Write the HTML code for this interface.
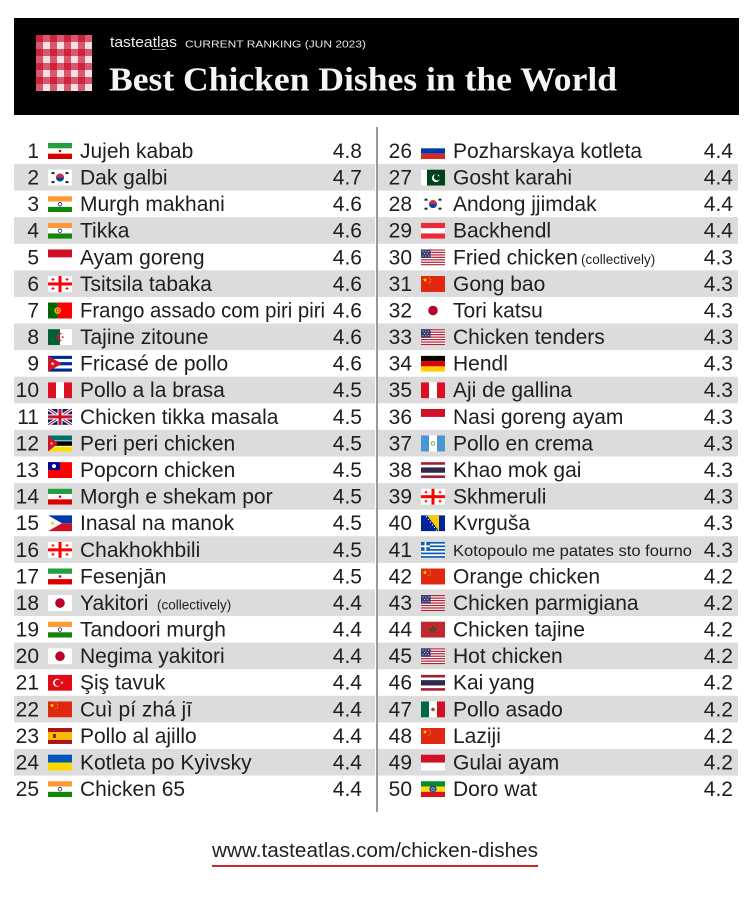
<!DOCTYPE html>
<html><head><meta charset="utf-8"><style>
html,body{margin:0;padding:0;background:#fff;}
svg{display:block;}
text{font-family:"Liberation Sans","DejaVu Sans",sans-serif;}
.t{font-size:21px;fill:#1e1e1e;}
.e{text-anchor:end;}
.s{font-size:13.5px;fill:#1e1e1e;}
</style></head><body>
<svg width="751" height="900" viewBox="0 0 751 900" xmlns="http://www.w3.org/2000/svg" xmlns:xlink="http://www.w3.org/1999/xlink">
<defs>
<pattern id="ging" x="36" y="35" width="14" height="14" patternUnits="userSpaceOnUse">
<rect width="14" height="14" fill="#f6dfe2"/>
<rect width="7" height="14" fill="#c4001f" fill-opacity="0.6"/>
<rect width="14" height="7" fill="#c4001f" fill-opacity="0.6"/>
</pattern>
<path id="star" d="M0-1L.2245-.309L.951-.309L.363.118L.588.809L0 .382L-.588.809L-.363.118L-.951-.309L-.2245-.309Z"/>
<symbol id="iran" viewBox="0 0 24 16"><rect width="24" height="16" fill="#fff"/><rect width="24" height="5.33" fill="#239f40"/><rect y="10.67" width="24" height="5.33" fill="#da0000"/><circle cx="12" cy="8" r="1.3" fill="#da0000"/></symbol>
<symbol id="korea" viewBox="0 0 24 16"><rect width="24" height="16" fill="#fff"/><circle cx="12" cy="8" r="4" fill="#0047a0"/><path d="M8 8a4 4 0 0 1 8 0z" fill="#cd2e3a"/><rect x="3.5" y="2.5" width="3" height="2" fill="#222"/><rect x="17.5" y="2.5" width="3" height="2" fill="#222"/><rect x="3.5" y="11.5" width="3" height="2" fill="#222"/><rect x="17.5" y="11.5" width="3" height="2" fill="#222"/></symbol>
<symbol id="india" viewBox="0 0 24 16"><rect width="24" height="16" fill="#fff"/><rect width="24" height="5.33" fill="#ff9933"/><rect y="10.67" width="24" height="5.33" fill="#138808"/><circle cx="12" cy="8" r="1.8" fill="none" stroke="#000080" stroke-width=".7"/></symbol>
<symbol id="indonesia" viewBox="0 0 24 16"><rect width="24" height="16" fill="#fff"/><rect width="24" height="8" fill="#ce1126"/></symbol>
<symbol id="georgia" viewBox="0 0 24 16"><rect width="24" height="16" fill="#fff"/><rect x="10.5" width="3" height="16" fill="#f00"/><rect y="6.5" width="24" height="3" fill="#f00"/><rect x="4.5" y="2" width="1" height="3" fill="#f00"/><rect x="3.5" y="3" width="3" height="1" fill="#f00"/><rect x="18.5" y="2" width="1" height="3" fill="#f00"/><rect x="17.5" y="3" width="3" height="1" fill="#f00"/><rect x="4.5" y="11" width="1" height="3" fill="#f00"/><rect x="3.5" y="12" width="3" height="1" fill="#f00"/><rect x="18.5" y="11" width="1" height="3" fill="#f00"/><rect x="17.5" y="12" width="3" height="1" fill="#f00"/></symbol>
<symbol id="portugal" viewBox="0 0 24 16"><rect width="9.6" height="16" fill="#006600"/><rect x="9.6" width="14.4" height="16" fill="#f00"/><circle cx="9.6" cy="8" r="3.2" fill="#ffe000"/><circle cx="9.6" cy="8" r="2" fill="#d00"/><rect x="8.8" y="7" width="1.6" height="2" fill="#fff"/></symbol>
<symbol id="algeria" viewBox="0 0 24 16"><rect width="12" height="16" fill="#006233"/><rect x="12" width="12" height="16" fill="#fff"/><path d="M14.5 4.5A4 4 0 1 0 14.5 11.5A3.2 3.2 0 1 1 14.5 4.5Z" fill="#d21034"/><use xlink:href="#star" transform="translate(14.8,8) scale(1.5)" fill="#d21034"/></symbol>
<symbol id="cuba" viewBox="0 0 24 16"><rect width="24" height="16" fill="#fff"/><rect width="24" height="3.2" fill="#002a8f"/><rect y="6.4" width="24" height="3.2" fill="#002a8f"/><rect y="12.8" width="24" height="3.2" fill="#002a8f"/><path d="M0 0L13.9 8L0 16Z" fill="#cf142b"/><use xlink:href="#star" transform="translate(4.6,8) scale(2)" fill="#fff"/></symbol>
<symbol id="peru" viewBox="0 0 24 16"><rect width="24" height="16" fill="#fff"/><rect width="8" height="16" fill="#d91023"/><rect x="16" width="8" height="16" fill="#d91023"/></symbol>
<symbol id="uk" viewBox="0 0 24 16"><rect width="24" height="16" fill="#012169"/><path d="M0 0L24 16M24 0L0 16" stroke="#fff" stroke-width="3.2"/><path d="M0 0L24 16M24 0L0 16" stroke="#c8102e" stroke-width="1.1"/><path d="M12 0V16M0 8H24" stroke="#fff" stroke-width="5"/><path d="M12 0V16M0 8H24" stroke="#c8102e" stroke-width="3"/></symbol>
<symbol id="mozambique" viewBox="0 0 24 16"><rect width="24" height="5.33" fill="#007168"/><rect y="5.33" width="24" height="5.34" fill="#000"/><rect y="10.67" width="24" height="5.33" fill="#fce100"/><rect y="5" width="24" height=".8" fill="#fff"/><rect y="10.3" width="24" height=".8" fill="#fff"/><path d="M0 0L10 8L0 16Z" fill="#d21034"/><use xlink:href="#star" transform="translate(3.6,8) scale(2)" fill="#fce100"/></symbol>
<symbol id="taiwan" viewBox="0 0 24 16"><rect width="24" height="16" fill="#fe0000"/><rect width="12" height="8" fill="#000095"/><circle cx="6" cy="4" r="2" fill="#fff"/></symbol>
<symbol id="philippines" viewBox="0 0 24 16"><rect width="24" height="8" fill="#0038a8"/><rect y="8" width="24" height="8" fill="#ce1126"/><path d="M0 0L13.9 8L0 16Z" fill="#fff"/><circle cx="4.6" cy="8" r="1.6" fill="#fcd116"/></symbol>
<symbol id="japan" viewBox="0 0 24 16"><rect width="24" height="16" fill="#fff"/><circle cx="12" cy="8" r="4.8" fill="#bc002d"/></symbol>
<symbol id="turkey" viewBox="0 0 24 16"><rect width="24" height="16" fill="#e30a17"/><circle cx="9" cy="8" r="4" fill="#fff"/><circle cx="10" cy="8" r="3.2" fill="#e30a17"/><use xlink:href="#star" transform="translate(14,8) rotate(-18) scale(1.7)" fill="#fff"/></symbol>
<symbol id="china" viewBox="0 0 24 16"><rect width="24" height="16" fill="#de2910"/><use xlink:href="#star" transform="translate(4,4) scale(2.4)" fill="#ffde00"/><use xlink:href="#star" transform="translate(8,1.6) scale(.8)" fill="#ffde00"/><use xlink:href="#star" transform="translate(9.6,3.2) scale(.8)" fill="#ffde00"/><use xlink:href="#star" transform="translate(9.6,5.6) scale(.8)" fill="#ffde00"/><use xlink:href="#star" transform="translate(8,7.2) scale(.8)" fill="#ffde00"/></symbol>
<symbol id="spain" viewBox="0 0 24 16"><rect width="24" height="16" fill="#aa151b"/><rect y="4" width="24" height="8" fill="#f1bf00"/><rect x="5" y="6" width="3" height="4" fill="#aa151b"/></symbol>
<symbol id="ukraine" viewBox="0 0 24 16"><rect width="24" height="8" fill="#0057b7"/><rect y="8" width="24" height="8" fill="#ffd700"/></symbol>
<symbol id="russia" viewBox="0 0 24 16"><rect width="24" height="5.33" fill="#fff"/><rect y="5.33" width="24" height="5.34" fill="#0039a6"/><rect y="10.67" width="24" height="5.33" fill="#d52b1e"/></symbol>
<symbol id="pakistan" viewBox="0 0 24 16"><rect width="24" height="16" fill="#fff"/><rect x="6" width="18" height="16" fill="#01411c"/><circle cx="15" cy="8.5" r="4" fill="#fff"/><circle cx="16.2" cy="7.5" r="3.4" fill="#01411c"/><use xlink:href="#star" transform="translate(17.5,6) scale(1.3)" fill="#fff"/></symbol>
<symbol id="austria" viewBox="0 0 24 16"><rect width="24" height="16" fill="#fff"/><rect width="24" height="5.33" fill="#ed2939"/><rect y="10.67" width="24" height="5.33" fill="#ed2939"/></symbol>
<symbol id="usa" viewBox="0 0 24 16"><rect width="24" height="16" fill="#fff"/><g fill="#b22234"><rect width="24" height="1.23"/><rect y="2.46" width="24" height="1.23"/><rect y="4.92" width="24" height="1.23"/><rect y="7.38" width="24" height="1.23"/><rect y="9.85" width="24" height="1.23"/><rect y="12.31" width="24" height="1.23"/><rect y="14.77" width="24" height="1.23"/></g><rect width="9.6" height="8.6" fill="#3c3b6e"/><g fill="#fff"><circle cx="2" cy="2" r=".5"/><circle cx="4.8" cy="2" r=".5"/><circle cx="7.6" cy="2" r=".5"/><circle cx="3.4" cy="4.3" r=".5"/><circle cx="6.2" cy="4.3" r=".5"/><circle cx="2" cy="6.6" r=".5"/><circle cx="4.8" cy="6.6" r=".5"/><circle cx="7.6" cy="6.6" r=".5"/></g></symbol>
<symbol id="germany" viewBox="0 0 24 16"><rect width="24" height="5.33" fill="#000"/><rect y="5.33" width="24" height="5.34" fill="#d00"/><rect y="10.67" width="24" height="5.33" fill="#ffce00"/></symbol>
<symbol id="guatemala" viewBox="0 0 24 16"><rect width="24" height="16" fill="#fff"/><rect width="8" height="16" fill="#4997d0"/><rect x="16" width="8" height="16" fill="#4997d0"/><circle cx="12" cy="8" r="1.8" fill="none" stroke="#6c9a3a" stroke-width=".8"/></symbol>
<symbol id="thailand" viewBox="0 0 24 16"><rect width="24" height="16" fill="#a51931"/><rect y="2.67" width="24" height="10.66" fill="#fff"/><rect y="5.33" width="24" height="5.34" fill="#2d2a4a"/></symbol>
<symbol id="bosnia" viewBox="0 0 24 16"><rect width="24" height="16" fill="#002395"/><path d="M6 0H18V16Z" fill="#fecb00"/><g fill="#fff"><circle cx="5.5" cy="1.5" r=".6"/><circle cx="7.5" cy="4.2" r=".6"/><circle cx="9.5" cy="6.9" r=".6"/><circle cx="11.5" cy="9.6" r=".6"/><circle cx="13.5" cy="12.3" r=".6"/><circle cx="15.5" cy="15" r=".6"/></g></symbol>
<symbol id="greece" viewBox="0 0 24 16"><rect width="24" height="16" fill="#fff"/><g fill="#0d5eaf"><rect width="24" height="1.78"/><rect y="3.56" width="24" height="1.78"/><rect y="7.11" width="24" height="1.78"/><rect y="10.67" width="24" height="1.78"/><rect y="14.22" width="24" height="1.78"/><rect width="8.9" height="8.9"/></g><rect x="3.56" width="1.78" height="8.9" fill="#fff"/><rect y="3.56" width="8.9" height="1.78" fill="#fff"/></symbol>
<symbol id="morocco" viewBox="0 0 24 16"><rect width="24" height="16" fill="#c1272d"/><use xlink:href="#star" transform="translate(12,8.3) scale(3.4)" fill="none" stroke="#006233" stroke-width=".22"/></symbol>
<symbol id="mexico" viewBox="0 0 24 16"><rect width="24" height="16" fill="#fff"/><rect width="8" height="16" fill="#006847"/><rect x="16" width="8" height="16" fill="#ce1126"/><circle cx="12" cy="8" r="1.8" fill="#8c5a2b"/></symbol>
<symbol id="ethiopia" viewBox="0 0 24 16"><rect width="24" height="5.33" fill="#078930"/><rect y="5.33" width="24" height="5.34" fill="#fcdd09"/><rect y="10.67" width="24" height="5.33" fill="#da121a"/><circle cx="12" cy="8" r="3.6" fill="#0f47af"/><use xlink:href="#star" transform="translate(12,8.2) scale(2.4)" fill="none" stroke="#fcdd09" stroke-width=".2"/></symbol>
</defs>

<!-- header -->
<rect x="14" y="18" width="725" height="97" fill="#000"/>
<rect x="36" y="35" width="56" height="56" fill="url(#ging)"/>
<text x="110" y="47" font-size="15" fill="#ececec" textLength="67" lengthAdjust="spacingAndGlyphs">tasteatlas</text>
<rect x="152" y="49" width="14" height="0.8" fill="#bbb"/>
<text x="185" y="47.5" font-size="10.5" fill="#e6e6e6" textLength="181" lengthAdjust="spacingAndGlyphs">CURRENT RANKING (JUN 2023)</text>
<text x="109" y="90.5" font-size="34" font-weight="bold" fill="#f5f5f5" textLength="508" lengthAdjust="spacingAndGlyphs" style="font-family:'Liberation Serif','DejaVu Serif',serif;">Best Chicken Dishes in the World</text>

<!-- divider -->
<rect x="376.5" y="127" width="1" height="685" fill="#333"/>

<!-- rows -->
<g class="t">
<g transform="translate(0,137.4)"><text class="t e" x="39" y="20.5">1</text><use xlink:href="#iran" x="48" y="5.6" width="24" height="16"/><text class="t" x="80" y="20.5">Jujeh kabab</text><text class="t e" x="362" y="20.5">4.8</text>
<text class="t e" x="412" y="20.5">26</text><use xlink:href="#russia" x="421" y="5.6" width="24" height="16"/><text class="t" x="453" y="20.5">Pozharskaya kotleta</text><text class="t e" x="733" y="20.5">4.4</text></g>

<g transform="translate(0,163.99)"><rect x="14" width="361" height="26.6" fill="#dcdcdc"/><rect x="378" width="360" height="26.6" fill="#dcdcdc"/><text class="t e" x="39" y="20.5">2</text><use xlink:href="#korea" x="48" y="5.6" width="24" height="16"/><text class="t" x="80" y="20.5">Dak galbi</text><text class="t e" x="362" y="20.5">4.7</text>
<text class="t e" x="412" y="20.5">27</text><use xlink:href="#pakistan" x="421" y="5.6" width="24" height="16"/><text class="t" x="453" y="20.5">Gosht karahi</text><text class="t e" x="733" y="20.5">4.4</text></g>

<g transform="translate(0,190.58)"><text class="t e" x="39" y="20.5">3</text><use xlink:href="#india" x="48" y="5.6" width="24" height="16"/><text class="t" x="80" y="20.5">Murgh makhani</text><text class="t e" x="362" y="20.5">4.6</text>
<text class="t e" x="412" y="20.5">28</text><use xlink:href="#korea" x="421" y="5.6" width="24" height="16"/><text class="t" x="453" y="20.5">Andong jjimdak</text><text class="t e" x="733" y="20.5">4.4</text></g>

<g transform="translate(0,217.17)"><rect x="14" width="361" height="26.6" fill="#dcdcdc"/><rect x="378" width="360" height="26.6" fill="#dcdcdc"/><text class="t e" x="39" y="20.5">4</text><use xlink:href="#india" x="48" y="5.6" width="24" height="16"/><text class="t" x="80" y="20.5">Tikka</text><text class="t e" x="362" y="20.5">4.6</text>
<text class="t e" x="412" y="20.5">29</text><use xlink:href="#austria" x="421" y="5.6" width="24" height="16"/><text class="t" x="453" y="20.5">Backhendl</text><text class="t e" x="733" y="20.5">4.4</text></g>

<g transform="translate(0,243.76)"><text class="t e" x="39" y="20.5">5</text><use xlink:href="#indonesia" x="48" y="5.6" width="24" height="16"/><text class="t" x="80" y="20.5">Ayam goreng</text><text class="t e" x="362" y="20.5">4.6</text>
<text class="t e" x="412" y="20.5">30</text><use xlink:href="#usa" x="421" y="5.6" width="24" height="16"/><text class="t" x="453" y="20.5">Fried chicken</text><text class="s" x="581" y="20">(collectively)</text><text class="t e" x="733" y="20.5">4.3</text></g>

<g transform="translate(0,270.35)"><rect x="14" width="361" height="26.6" fill="#dcdcdc"/><rect x="378" width="360" height="26.6" fill="#dcdcdc"/><text class="t e" x="39" y="20.5">6</text><use xlink:href="#georgia" x="48" y="5.6" width="24" height="16"/><text class="t" x="80" y="20.5">Tsitsila tabaka</text><text class="t e" x="362" y="20.5">4.6</text>
<text class="t e" x="412" y="20.5">31</text><use xlink:href="#china" x="421" y="5.6" width="24" height="16"/><text class="t" x="453" y="20.5">Gong bao</text><text class="t e" x="733" y="20.5">4.3</text></g>

<g transform="translate(0,296.94)"><text class="t e" x="39" y="20.5">7</text><use xlink:href="#portugal" x="48" y="5.6" width="24" height="16"/><text class="t" x="80" y="20.5" textLength="245" lengthAdjust="spacingAndGlyphs">Frango assado com piri piri</text><text class="t e" x="362" y="20.5">4.6</text>
<text class="t e" x="412" y="20.5">32</text><use xlink:href="#japan" x="421" y="5.6" width="24" height="16"/><text class="t" x="453" y="20.5">Tori katsu</text><text class="t e" x="733" y="20.5">4.3</text></g>

<g transform="translate(0,323.53)"><rect x="14" width="361" height="26.6" fill="#dcdcdc"/><rect x="378" width="360" height="26.6" fill="#dcdcdc"/><text class="t e" x="39" y="20.5">8</text><use xlink:href="#algeria" x="48" y="5.6" width="24" height="16"/><text class="t" x="80" y="20.5">Tajine zitoune</text><text class="t e" x="362" y="20.5">4.6</text>
<text class="t e" x="412" y="20.5">33</text><use xlink:href="#usa" x="421" y="5.6" width="24" height="16"/><text class="t" x="453" y="20.5">Chicken tenders</text><text class="t e" x="733" y="20.5">4.3</text></g>

<g transform="translate(0,350.12)"><text class="t e" x="39" y="20.5">9</text><use xlink:href="#cuba" x="48" y="5.6" width="24" height="16"/><text class="t" x="80" y="20.5">Fricasé de pollo</text><text class="t e" x="362" y="20.5">4.6</text>
<text class="t e" x="412" y="20.5">34</text><use xlink:href="#germany" x="421" y="5.6" width="24" height="16"/><text class="t" x="453" y="20.5">Hendl</text><text class="t e" x="733" y="20.5">4.3</text></g>

<g transform="translate(0,376.71)"><rect x="14" width="361" height="26.6" fill="#dcdcdc"/><rect x="378" width="360" height="26.6" fill="#dcdcdc"/><text class="t e" x="39" y="20.5">10</text><use xlink:href="#peru" x="48" y="5.6" width="24" height="16"/><text class="t" x="80" y="20.5">Pollo a la brasa</text><text class="t e" x="362" y="20.5">4.5</text>
<text class="t e" x="412" y="20.5">35</text><use xlink:href="#peru" x="421" y="5.6" width="24" height="16"/><text class="t" x="453" y="20.5">Aji de gallina</text><text class="t e" x="733" y="20.5">4.3</text></g>

<g transform="translate(0,403.3)"><text class="t e" x="39" y="20.5">11</text><use xlink:href="#uk" x="48" y="5.6" width="24" height="16"/><text class="t" x="80" y="20.5">Chicken tikka masala</text><text class="t e" x="362" y="20.5">4.5</text>
<text class="t e" x="412" y="20.5">36</text><use xlink:href="#indonesia" x="421" y="5.6" width="24" height="16"/><text class="t" x="453" y="20.5">Nasi goreng ayam</text><text class="t e" x="733" y="20.5">4.3</text></g>

<g transform="translate(0,429.89)"><rect x="14" width="361" height="26.6" fill="#dcdcdc"/><rect x="378" width="360" height="26.6" fill="#dcdcdc"/><text class="t e" x="39" y="20.5">12</text><use xlink:href="#mozambique" x="48" y="5.6" width="24" height="16"/><text class="t" x="80" y="20.5">Peri peri chicken</text><text class="t e" x="362" y="20.5">4.5</text>
<text class="t e" x="412" y="20.5">37</text><use xlink:href="#guatemala" x="421" y="5.6" width="24" height="16"/><text class="t" x="453" y="20.5">Pollo en crema</text><text class="t e" x="733" y="20.5">4.3</text></g>

<g transform="translate(0,456.48)"><text class="t e" x="39" y="20.5">13</text><use xlink:href="#taiwan" x="48" y="5.6" width="24" height="16"/><text class="t" x="80" y="20.5">Popcorn chicken</text><text class="t e" x="362" y="20.5">4.5</text>
<text class="t e" x="412" y="20.5">38</text><use xlink:href="#thailand" x="421" y="5.6" width="24" height="16"/><text class="t" x="453" y="20.5">Khao mok gai</text><text class="t e" x="733" y="20.5">4.3</text></g>

<g transform="translate(0,483.07)"><rect x="14" width="361" height="26.6" fill="#dcdcdc"/><rect x="378" width="360" height="26.6" fill="#dcdcdc"/><text class="t e" x="39" y="20.5">14</text><use xlink:href="#iran" x="48" y="5.6" width="24" height="16"/><text class="t" x="80" y="20.5">Morgh e shekam por</text><text class="t e" x="362" y="20.5">4.5</text>
<text class="t e" x="412" y="20.5">39</text><use xlink:href="#georgia" x="421" y="5.6" width="24" height="16"/><text class="t" x="453" y="20.5">Skhmeruli</text><text class="t e" x="733" y="20.5">4.3</text></g>

<g transform="translate(0,509.66)"><text class="t e" x="39" y="20.5">15</text><use xlink:href="#philippines" x="48" y="5.6" width="24" height="16"/><text class="t" x="80" y="20.5">Inasal na manok</text><text class="t e" x="362" y="20.5">4.5</text>
<text class="t e" x="412" y="20.5">40</text><use xlink:href="#bosnia" x="421" y="5.6" width="24" height="16"/><text class="t" x="453" y="20.5">Kvrguša</text><text class="t e" x="733" y="20.5">4.3</text></g>

<g transform="translate(0,536.25)"><rect x="14" width="361" height="26.6" fill="#dcdcdc"/><rect x="378" width="360" height="26.6" fill="#dcdcdc"/><text class="t e" x="39" y="20.5">16</text><use xlink:href="#georgia" x="48" y="5.6" width="24" height="16"/><text class="t" x="80" y="20.5">Chakhokhbili</text><text class="t e" x="362" y="20.5">4.5</text>
<text class="t e" x="412" y="20.5">41</text><use xlink:href="#greece" x="421" y="5.6" width="24" height="16"/><text x="453" y="19.5" font-size="15.5" fill="#1e1e1e" textLength="239" lengthAdjust="spacingAndGlyphs">Kotopoulo me patates sto fourno</text><text class="t e" x="733" y="20.5">4.3</text></g>

<g transform="translate(0,562.84)"><text class="t e" x="39" y="20.5">17</text><use xlink:href="#iran" x="48" y="5.6" width="24" height="16"/><text class="t" x="80" y="20.5">Fesenjān</text><text class="t e" x="362" y="20.5">4.5</text>
<text class="t e" x="412" y="20.5">42</text><use xlink:href="#china" x="421" y="5.6" width="24" height="16"/><text class="t" x="453" y="20.5">Orange chicken</text><text class="t e" x="733" y="20.5">4.2</text></g>

<g transform="translate(0,589.43)"><rect x="14" width="361" height="26.6" fill="#dcdcdc"/><rect x="378" width="360" height="26.6" fill="#dcdcdc"/><text class="t e" x="39" y="20.5">18</text><use xlink:href="#japan" x="48" y="5.6" width="24" height="16"/><text class="t" x="80" y="20.5">Yakitori</text><text class="s" x="157" y="20">(collectively)</text><text class="t e" x="362" y="20.5">4.4</text>
<text class="t e" x="412" y="20.5">43</text><use xlink:href="#usa" x="421" y="5.6" width="24" height="16"/><text class="t" x="453" y="20.5">Chicken parmigiana</text><text class="t e" x="733" y="20.5">4.2</text></g>

<g transform="translate(0,616.02)"><text class="t e" x="39" y="20.5">19</text><use xlink:href="#india" x="48" y="5.6" width="24" height="16"/><text class="t" x="80" y="20.5">Tandoori murgh</text><text class="t e" x="362" y="20.5">4.4</text>
<text class="t e" x="412" y="20.5">44</text><use xlink:href="#morocco" x="421" y="5.6" width="24" height="16"/><text class="t" x="453" y="20.5">Chicken tajine</text><text class="t e" x="733" y="20.5">4.2</text></g>

<g transform="translate(0,642.61)"><rect x="14" width="361" height="26.6" fill="#dcdcdc"/><rect x="378" width="360" height="26.6" fill="#dcdcdc"/><text class="t e" x="39" y="20.5">20</text><use xlink:href="#japan" x="48" y="5.6" width="24" height="16"/><text class="t" x="80" y="20.5">Negima yakitori</text><text class="t e" x="362" y="20.5">4.4</text>
<text class="t e" x="412" y="20.5">45</text><use xlink:href="#usa" x="421" y="5.6" width="24" height="16"/><text class="t" x="453" y="20.5">Hot chicken</text><text class="t e" x="733" y="20.5">4.2</text></g>

<g transform="translate(0,669.2)"><text class="t e" x="39" y="20.5">21</text><use xlink:href="#turkey" x="48" y="5.6" width="24" height="16"/><text class="t" x="80" y="20.5">Şiş tavuk</text><text class="t e" x="362" y="20.5">4.4</text>
<text class="t e" x="412" y="20.5">46</text><use xlink:href="#thailand" x="421" y="5.6" width="24" height="16"/><text class="t" x="453" y="20.5">Kai yang</text><text class="t e" x="733" y="20.5">4.2</text></g>

<g transform="translate(0,695.79)"><rect x="14" width="361" height="26.6" fill="#dcdcdc"/><rect x="378" width="360" height="26.6" fill="#dcdcdc"/><text class="t e" x="39" y="20.5">22</text><use xlink:href="#china" x="48" y="5.6" width="24" height="16"/><text class="t" x="80" y="20.5">Cuì pí zhá jī</text><text class="t e" x="362" y="20.5">4.4</text>
<text class="t e" x="412" y="20.5">47</text><use xlink:href="#mexico" x="421" y="5.6" width="24" height="16"/><text class="t" x="453" y="20.5">Pollo asado</text><text class="t e" x="733" y="20.5">4.2</text></g>

<g transform="translate(0,722.38)"><text class="t e" x="39" y="20.5">23</text><use xlink:href="#spain" x="48" y="5.6" width="24" height="16"/><text class="t" x="80" y="20.5">Pollo al ajillo</text><text class="t e" x="362" y="20.5">4.4</text>
<text class="t e" x="412" y="20.5">48</text><use xlink:href="#china" x="421" y="5.6" width="24" height="16"/><text class="t" x="453" y="20.5">Laziji</text><text class="t e" x="733" y="20.5">4.2</text></g>

<g transform="translate(0,748.97)"><rect x="14" width="361" height="26.6" fill="#dcdcdc"/><rect x="378" width="360" height="26.6" fill="#dcdcdc"/><text class="t e" x="39" y="20.5">24</text><use xlink:href="#ukraine" x="48" y="5.6" width="24" height="16"/><text class="t" x="80" y="20.5">Kotleta po Kyivsky</text><text class="t e" x="362" y="20.5">4.4</text>
<text class="t e" x="412" y="20.5">49</text><use xlink:href="#indonesia" x="421" y="5.6" width="24" height="16"/><text class="t" x="453" y="20.5">Gulai ayam</text><text class="t e" x="733" y="20.5">4.2</text></g>

<g transform="translate(0,775.56)"><text class="t e" x="39" y="20.5">25</text><use xlink:href="#india" x="48" y="5.6" width="24" height="16"/><text class="t" x="80" y="20.5">Chicken 65</text><text class="t e" x="362" y="20.5">4.4</text>
<text class="t e" x="412" y="20.5">50</text><use xlink:href="#ethiopia" x="421" y="5.6" width="24" height="16"/><text class="t" x="453" y="20.5">Doro wat</text><text class="t e" x="733" y="20.5">4.2</text></g>
</g>

<!-- footer -->
<text x="212" y="857" font-size="20" fill="#222" textLength="326" lengthAdjust="spacingAndGlyphs">www.tasteatlas.com/chicken-dishes</text>
<rect x="212" y="865" width="326" height="2" fill="#c62a2f"/>
</svg>
</body></html>
